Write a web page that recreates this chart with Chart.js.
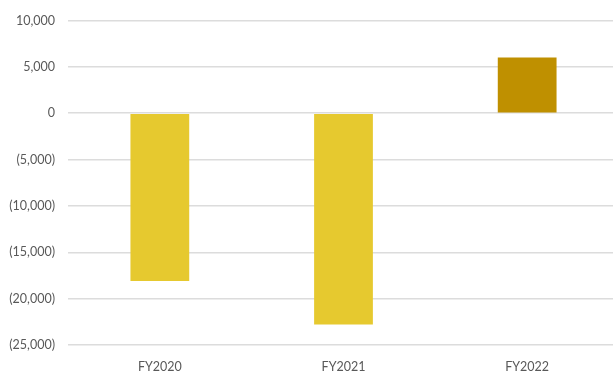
<!DOCTYPE html>
<html>
<head>
<meta charset="utf-8">
<script src="https://cdn.jsdelivr.net/npm/chart.js@4/dist/chart.umd.min.js"></script>
<style>
  html, body { margin: 0; padding: 0; background: #fff; overflow: hidden; }
  #wrap { width: 619px; height: 376px; position: relative; }
</style>
</head>
<body>
<div id="wrap">
  <canvas id="result-chart"></canvas>
</div>

<script>
// fiscal years and net result per year
var years = ["FY2020", "FY2021", "FY2022"];
var results = [-18100, -22800, 6000];
var barColors = ["#E6C92F", "#E6C92F", "#BF9000"];

// 12,000 style, negatives in brackets
function formatAmount(v) {
  var s = Math.abs(v).toLocaleString("en-US");
  if (v < 0) return "(" + s + ")";
  return s;
}

var ctx = document.getElementById("result-chart");

var chart = new Chart(ctx, {
  type: "bar",
  data: {
    labels: years,
    datasets: [{
      data: results,
      backgroundColor: barColors,
      borderWidth: 0,
      barPercentage: 0.32,
      categoryPercentage: 1.0
    }]
  },
  options: {
    responsive: true,
    maintainAspectRatio: false,
    animation: false,
    layout: { padding: { top: 8, left: 0, right: 0, bottom: 0 } },
    plugins: {
      legend: { display: false },
      tooltip: { enabled: false }
    },
    scales: {
      x: {
        grid: { display: false, drawTicks: false },
        border: { display: false },
        ticks: {
          color: "#595959",
          font: { family: "Lato", size: 12.5 },
          padding: 14
        },
        afterFit: function (scale) { scale.height = 31; }
      },
      y: {
        min: -25000,
        max: 10000,
        grid: { color: "#dcdcdc", lineWidth: 1.5, drawTicks: false },
        border: { display: false },
        ticks: {
          stepSize: 5000,
          color: "#595959",
          font: { family: "Lato", size: 12.5 },
          padding: 13,
          callback: function (v) { return formatAmount(v); }
        },
        afterFit: function (scale) { scale.width = 68; }
      }
    }
  }
});
</script>
</body>
</html>
